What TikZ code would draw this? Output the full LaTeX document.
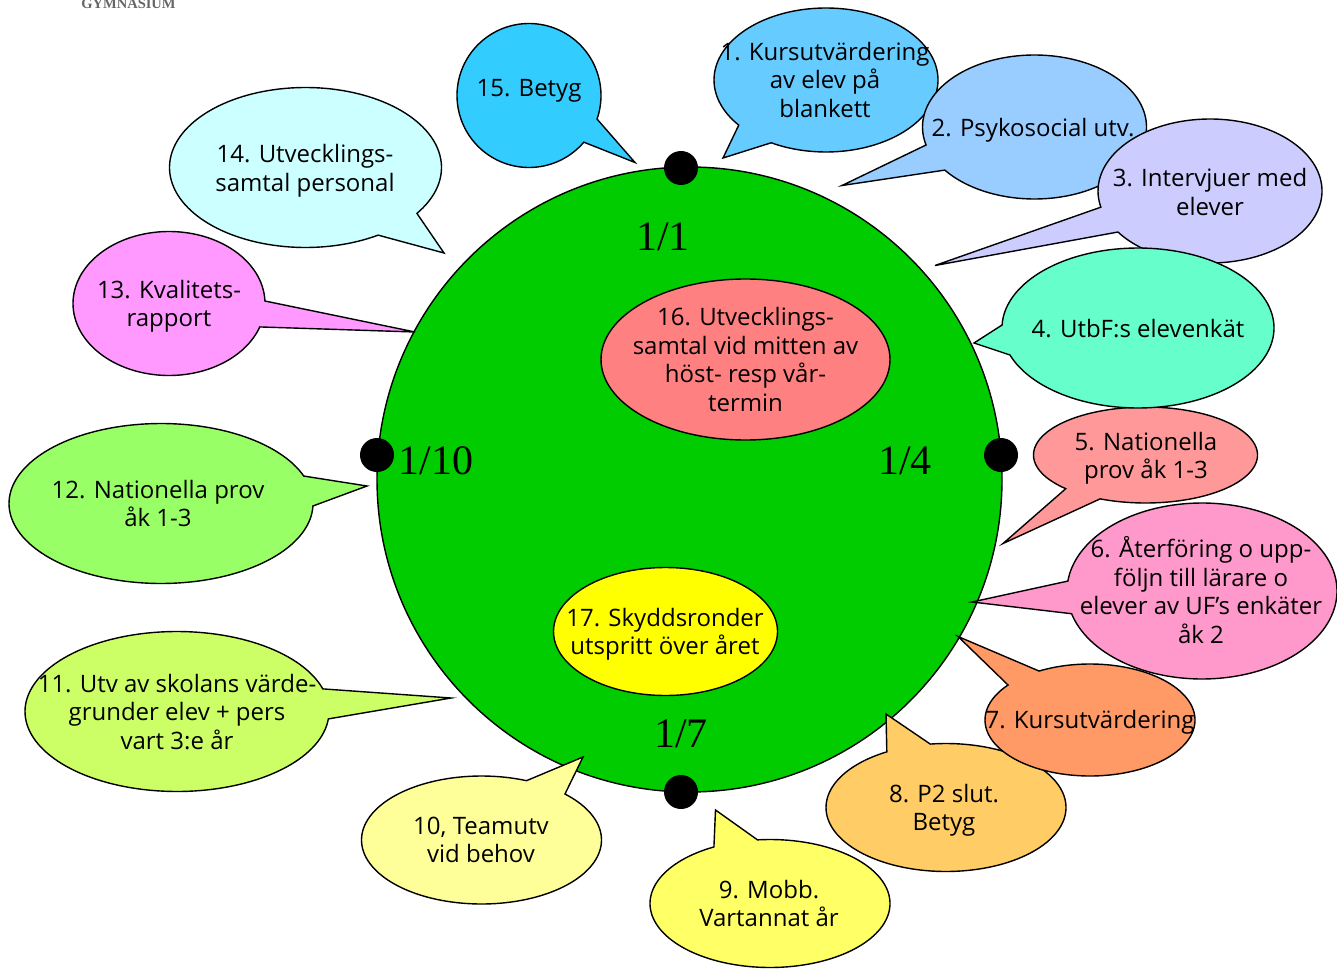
\documentclass[tikz,border=0pt]{standalone}
\usepackage{fontspec}
\setmainfont{Open Sans}
\newfontfamily\serifnum{Liberation Serif}
\definecolor{c1}{HTML}{66CCFF}\definecolor{c2}{HTML}{99CCFF}\definecolor{c3}{HTML}{CCCCFF}
\definecolor{c4}{HTML}{66FFCC}\definecolor{c5}{HTML}{FF9999}\definecolor{c6}{HTML}{FF99CC}
\definecolor{c7}{HTML}{FF9966}\definecolor{c8}{HTML}{FFCC66}\definecolor{c9}{HTML}{FFFF66}
\definecolor{c10}{HTML}{FFFF99}\definecolor{c11}{HTML}{CCFF66}\definecolor{c12}{HTML}{99FF66}
\definecolor{c13}{HTML}{FF99FF}\definecolor{c14}{HTML}{CCFFFF}\definecolor{c15}{HTML}{33CCFF}
\definecolor{ringgreen}{HTML}{00CC00}\definecolor{c16}{HTML}{FF8080}\definecolor{c17}{HTML}{FFFF00}
\tikzset{
  outline/.style={draw=black,line width=1.4pt,line join=miter},
  bubbletext/.style={align=center,text=black,inner sep=0pt,font=\fontsize{24}{28.5}\selectfont},
  datelabel/.style={text=black,inner sep=0pt,font=\fontsize{42}{48}\serifnum},
  marker/.style={circle,fill=black,draw=none,minimum size=34pt,inner sep=0pt}
}
% ellipse centre and radii
\def\setell#1#2#3#4{\def\ecx{#1}\def\ecy{#2}\def\erx{#3}\def\ery{#4}}
% fill, base1 x y, tip x y, base2 x y
\def\bubble#1#2#3#4#5#6#7{%
  \pgfmathsetmacro\aone{atan2((#3-\ecy)/\ery,(#2-\ecx)/\erx)}%
  \pgfmathsetmacro\atwo{atan2((#7-\ecy)/\ery,(#6-\ecx)/\erx)}%
  \pgfmathsetmacro\dd{mod(\aone-\atwo+720,360)}%
  \pgfmathsetmacro\dd{\dd<180?\dd-360:\dd}%
  \pgfmathsetmacro\aend{\atwo+\dd}%
  \draw[outline,fill=#1] plot[domain=\atwo:\aend,samples=140] ({\ecx+\erx*cos(\x)},{\ecy+\ery*sin(\x)}) -- (#4,#5) -- cycle;%
}
\begin{document}
\begin{tikzpicture}[x=1pt,y=-1pt]
\useasboundingbox (0,0) rectangle (1337,968);
\begin{scope}
\clip (0,0) rectangle (1337,968);
\node[inner sep=0pt,text=black!60,font=\fontsize{14.5}{15}\serifnum\bfseries] (school) at (128.5,4) {GYMNASIUM};
\end{scope}
\draw[outline,fill=ringgreen] (689.5,479.5) circle [radius=312.5];
\node[marker] (dottop) at (681,168) {};
\node[marker] (dotleft) at (377,455) {};
\node[marker] (dotright) at (1001,455) {};
\node[marker] (dotbottom) at (681,792) {};
\node[datelabel] (d1) at (663,236.5) {1/1};
\node[datelabel] (d10) at (436,460.5) {1/10};
\node[datelabel] (d4) at (905,460.5) {1/4};
\node[datelabel] (d7) at (681,733.5) {1/7};
\draw[outline,fill=c16] (745.5,359.5) ellipse [x radius=144.5,y radius=80.5];
\node[bubbletext] (t16) at (745.5,359.5) {16. Utvecklings-\\samtal vid mitten av\\höst- resp vår-\\termin};
\draw[outline,fill=c17] (665.5,631.5) ellipse [x radius=112,y radius=64];
\node[bubbletext] (t17) at (665,634.5) {17. Skyddsronder\\utspritt över året};
%
\setell{529}{95.5}{72}{72}\bubble{c15}{594}{118}{635}{162.5}{576}{135.5}
\node[bubbletext] (t15) at (529,91) {15. Betyg};
\setell{305.5}{167.5}{136}{80}\bubble{c14}{416}{213}{444}{253}{378}{235}
\node[bubbletext] (t14) at (305,171) {14. Utvecklings-\\samtal personal};
\setell{169}{303.5}{96}{72}\bubble{c13}{265}{301}{415}{332}{260}{327}
\node[bubbletext] (t13) at (169,306.5) {13. Kvalitets-\\rapport};
\setell{161}{503.5}{152}{80}\bubble{c12}{304}{476}{367}{486}{313}{506}
\node[bubbletext] (t12) at (158,503.5) {12. Nationella prov\\åk 1-3};
\setell{177}{711.5}{152}{80}\bubble{c11}{322}{689}{451}{698}{330}{719}
\node[bubbletext] (t11) at (177,712) {11. Utv av skolans värde-\\grunder elev + pers\\vart 3:e år};
\setell{481.5}{840}{120}{64}\bubble{c10}{565}{794}{583}{757}{527}{780}
\node[bubbletext] (t10) at (481,840) {10, Teamutv\\vid behov};
\setell{770}{903.5}{120}{64}\bubble{c9}{714}{847}{715.5}{810}{757.5}{840}
\node[bubbletext] (t9) at (769,903.5) {9. Mobb.\\Vartannat år};
\setell{946}{807.5}{120}{64}\bubble{c8}{887}{752}{886}{714}{930}{743}
\node[bubbletext] (t8) at (944,810.5) {8. P2 slut.\\Betyg};
\setell{1090}{720}{105}{56}\bubble{c7}{1038}{670}{958}{636.5}{1008}{685}
\node[bubbletext] (t7) at (1090,722) {7. Kursutvärdering};
\setell{1202}{591}{135}{88}\bubble{c6}{1067}{581}{972}{602}{1070}{614}
\node[bubbletext] (t6) at (1201,590) {6. Återföring o upp-\\följn till lärare o\\elever av UF’s enkäter\\åk 2};
\setell{1145.5}{455}{112}{48}\bubble{c5}{1065}{489}{1003}{543.5}{1100}{499}
\node[bubbletext] (t5) at (1146,458.5) {5. Nationella\\prov åk 1-3};
\setell{826}{80}{112}{72}\bubble{c1}{739}{125}{723}{158}{771}{143}
\node[bubbletext] (t1) at (825,80) {1. Kursutvärdering\\av elev på\\blankett};
\setell{1034.5}{127}{112}{72}\bubble{c2}{926}{145}{842}{185.5}{945}{170}
\node[bubbletext] (t2) at (1033,130) {2. Psykosocial utv.};
\setell{1210}{191}{112}{72}\bubble{c3}{1102}{207}{935}{265.5}{1118}{232}
\node[bubbletext] (t3) at (1210,192) {3. Intervjuer med\\elever};
\setell{1138}{328}{136}{80}\bubble{c4}{1003}{325}{974}{343}{1010}{355}
\node[bubbletext] (t4) at (1138,329) {4. UtbF:s elevenkät};
\end{tikzpicture}
\end{document}
